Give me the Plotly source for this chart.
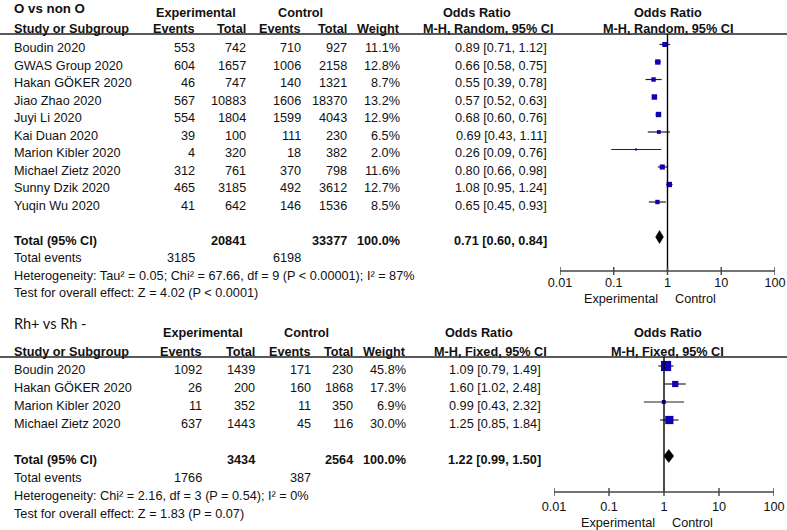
import math
import plotly.graph_objects as go

# ---------------- data ----------------
top_title = "O vs non O"
top_studies = ["Boudin 2020", "GWAS Group 2020", "Hakan GÖKER 2020", "Jiao Zhao 2020", "Juyi Li 2020",
               "Kai Duan 2020", "Marion Kibler 2020", "Michael Zietz 2020", "Sunny Dzik 2020", "Yuqin Wu 2020"]
top_exp_events = [553, 604, 46, 567, 554, 39, 4, 312, 465, 41]
top_exp_total = [742, 1657, 747, 10883, 1804, 100, 320, 761, 3185, 642]
top_ctl_events = [710, 1006, 140, 1606, 1599, 111, 18, 370, 492, 146]
top_ctl_total = [927, 2158, 1321, 18370, 4043, 230, 382, 798, 3612, 1536]
top_weight = [11.1, 12.8, 8.7, 13.2, 12.9, 6.5, 2.0, 11.6, 12.7, 8.5]
top_or = [0.89, 0.66, 0.55, 0.57, 0.68, 0.69, 0.26, 0.80, 1.08, 0.65]
top_lo = [0.71, 0.58, 0.39, 0.52, 0.60, 0.43, 0.09, 0.66, 0.95, 0.45]
top_hi = [1.12, 0.75, 0.78, 0.63, 0.76, 1.11, 0.76, 0.98, 1.24, 0.93]
top_total = {"exp_total": 20841, "ctl_total": 33377, "weight": 100.0, "or": 0.71, "lo": 0.60, "hi": 0.84,
             "exp_events": 3185, "ctl_events": 6198}
top_method = "M-H, Random, 95% CI"
top_het = "Heterogeneity: Tau² = 0.05; Chi² = 67.66, df = 9 (P < 0.00001); I² = 87%"
top_test = "Test for overall effect: Z = 4.02 (P < 0.0001)"

bot_title = "Rh+ vs Rh -"
bot_studies = ["Boudin 2020", "Hakan GÖKER 2020", "Marion Kibler 2020", "Michael Zietz 2020"]
bot_exp_events = [1092, 26, 11, 637]
bot_exp_total = [1439, 200, 352, 1443]
bot_ctl_events = [171, 160, 11, 45]
bot_ctl_total = [230, 1868, 350, 116]
bot_weight = [45.8, 17.3, 6.9, 30.0]
bot_or = [1.09, 1.60, 0.99, 1.25]
bot_lo = [0.79, 1.02, 0.43, 0.85]
bot_hi = [1.49, 2.48, 2.32, 1.84]
bot_total = {"exp_total": 3434, "ctl_total": 2564, "weight": 100.0, "or": 1.22, "lo": 0.99, "hi": 1.50,
             "exp_events": 1766, "ctl_events": 387}
bot_method = "M-H, Fixed, 95% CI"
bot_het = "Heterogeneity: Chi² = 2.16, df = 3 (P = 0.54); I² = 0%"
bot_test = "Test for overall effect: Z = 1.83 (P = 0.07)"

tick_vals = [0.01, 0.1, 1, 10, 100]
tick_text = ["0.01", "0.1", "1", "10", "100"]

# ---------------- style / layout ----------------
W, H = 787, 530
FONT = "Liberation Sans, Arial, sans-serif"
FS = 12.7
TXT = "#111111"
BLUE = "#1000b4"
LINE = "#222222"

fig = go.Figure()
annotations = []


def txt(x, y, s, anchor="left", bold=False, size=FS, family=FONT):
    annotations.append(dict(x=x, y=y, xref="x", yref="y", text=("<b>%s</b>" % s) if bold else s,
                            showarrow=False, xanchor=anchor, yanchor="middle",
                            font=dict(family=family, size=size, color=TXT)))


def panel(p):
    xa = p["xaxis"]
    # title and headers
    txt(12, p["title_y"], p["title"], bold=p["title_bold"], size=p["title_size"], family=p["title_font"])
    txt(p["exp_c"], p["h1"], "Experimental", anchor="center", bold=True)
    txt(p["ctl_c"], p["h1"], "Control", anchor="center", bold=True)
    txt(p["or1_c"], p["h1"], "Odds Ratio", anchor="center", bold=True)
    txt(p["or2_c"], p["h1"], "Odds Ratio", anchor="center", bold=True)
    txt(12, p["h2"], "Study or Subgroup", bold=True)
    txt(p["c_ee"], p["h2"], "Events", anchor="right", bold=True)
    txt(p["c_et"], p["h2"], "Total", anchor="right", bold=True)
    txt(p["c_ce"], p["h2"], "Events", anchor="right", bold=True)
    txt(p["c_ct"], p["h2"], "Total", anchor="right", bold=True)
    txt(p["c_w"], p["h2"], "Weight", anchor="right", bold=True)
    txt(p["c_or"] + 6, p["h2"], p["method"], anchor="right", bold=True)
    txt(p["or2_c"], p["h2"], p["method"], anchor="center", bold=True)

    # separator line across the width
    fig.add_trace(go.Scatter(x=[0, W], y=[p["sep"], p["sep"]], xaxis="x", yaxis="y", mode="lines",
                             line=dict(color=LINE, width=1.3), hoverinfo="skip", showlegend=False))

    n = len(p["studies"])
    ys = [p["row0"] + p["dy"] * i for i in range(n)]
    for i in range(n):
        y = ys[i]
        txt(12, y, p["studies"][i])
        txt(p["c_ee"], y, str(p["ee"][i]), anchor="right")
        txt(p["c_et"], y, str(p["et"][i]), anchor="right")
        txt(p["c_ce"], y, str(p["ce"][i]), anchor="right")
        txt(p["c_ct"], y, str(p["ct"][i]), anchor="right")
        txt(p["c_w"], y, "%.1f%%" % p["w"][i], anchor="right")
        txt(p["c_or"], y, "%.2f [%.2f, %.2f]" % (p["or"][i], p["lo"][i], p["hi"][i]), anchor="right")

    t = p["total"]
    y_tot = p["row0"] + p["dy"] * (n + 1)
    txt(12, y_tot, "Total (95% CI)", bold=True)
    txt(p["c_et"], y_tot, str(t["exp_total"]), anchor="right", bold=True)
    txt(p["c_ct"], y_tot, str(t["ctl_total"]), anchor="right", bold=True)
    txt(p["c_w"], y_tot, "%.1f%%" % t["weight"], anchor="right", bold=True)
    txt(p["c_or"], y_tot, "%.2f [%.2f, %.2f]" % (t["or"], t["lo"], t["hi"]), anchor="right", bold=True)
    y_ev = y_tot + p["dy"]
    txt(12, y_ev, "Total events")
    txt(p["c_ee"], y_ev, str(t["exp_events"]), anchor="right")
    txt(p["c_ce"], y_ev, str(t["ctl_events"]), anchor="right")
    txt(12, y_ev + p["dy"], p["het"])
    txt(12, y_ev + 2 * p["dy"], p["test"])

    # forest marks
    off = p["mark_off"]
    lx, ly = [], []
    for i in range(n):
        lx += [p["lo"][i], p["hi"][i], None]
        ly += [ys[i] - off, ys[i] - off, None]
    fig.add_trace(go.Scatter(x=lx, y=ly, xaxis=xa, yaxis="y", mode="lines",
                             line=dict(color=LINE, width=1.2), hoverinfo="skip", showlegend=False,
                             cliponaxis=False))
    fig.add_trace(go.Scatter(x=p["or"], y=[v - off for v in ys], xaxis=xa, yaxis="y", mode="markers",
                             marker=dict(symbol="square", color=BLUE, opacity=1,
                                         size=[1.5 * math.sqrt(w) for w in p["w"]], line=dict(width=0)),
                             hoverinfo="skip", showlegend=False, cliponaxis=False))
    yd = y_tot - off
    hh = 6.5
    fig.add_trace(go.Scatter(x=[t["lo"], t["or"], t["hi"], t["or"], t["lo"]],
                             y=[yd, yd - hh, yd, yd + hh, yd], xaxis=xa, yaxis="y", mode="lines",
                             fill="toself", fillcolor="black", line=dict(color="black", width=0.5),
                             hoverinfo="skip", showlegend=False))
    # null line
    fig.add_trace(go.Scatter(x=[1, 1], y=[p["sep"], p["axis_y"]], xaxis=xa, yaxis="y", mode="lines",
                             line=dict(color="black", width=1.4), hoverinfo="skip", showlegend=False))
    # axis line + ticks
    ay = p["axis_y"]
    fig.add_trace(go.Scatter(x=[tick_vals[0], tick_vals[-1]], y=[ay, ay], xaxis=xa, yaxis="y", mode="lines",
                             line=dict(color="#444444", width=1.4), hoverinfo="skip", showlegend=False,
                             cliponaxis=False))
    tx, ty = [], []
    for v in tick_vals:
        tx += [v, v, None]
        ty += [ay - 4, ay + 4, None]
    fig.add_trace(go.Scatter(x=tx, y=ty, xaxis=xa, yaxis="y", mode="lines",
                             line=dict(color="#444444", width=1.4), hoverinfo="skip", showlegend=False,
                             cliponaxis=False))
    fig.add_trace(go.Scatter(x=tick_vals, y=[ay + p["tl_off"]] * len(tick_vals), xaxis=xa, yaxis="y",
                             mode="text", text=tick_text, textposition="middle center", cliponaxis=False,
                             textfont=dict(family=FONT, size=FS, color=TXT), hoverinfo="skip", showlegend=False))
    txt(p["null_px"] - 7, ay + p["lab_off"], "Experimental", anchor="right")
    txt(p["null_px"] + 6, ay + p["lab_off"], "Control", anchor="left")


top = dict(xaxis="x2", title=top_title, title_y=8, title_bold=True, title_size=13.3, title_font=FONT,
           h1=12.5, h2=29, sep=34, row0=48, dy=17.5,
           exp_c=196, ctl_c=300, or1_c=477, or2_c=668,
           c_ee=197, c_et=248, c_ce=303, c_ct=349, c_w=402, c_or=549,
           method=top_method, studies=top_studies, ee=top_exp_events, et=top_exp_total,
           ce=top_ctl_events, ct=top_ctl_total, w=top_weight, **{"or": top_or}, lo=top_lo, hi=top_hi,
           total=top_total, het=top_het, test=top_test, mark_off=3.5, axis_y=271, null_px=667,
           tl_off=13, lab_off=28)
bot = dict(xaxis="x3", title=bot_title, title_y=323, title_bold=False, title_size=14.5,
           title_font="Lato, Open Sans, sans-serif",
           h1=333, h2=351.5, sep=357, row0=370, dy=18,
           exp_c=203, ctl_c=306, or1_c=479, or2_c=667.5,
           c_ee=204, c_et=257, c_ce=313, c_ct=355, c_w=408, c_or=543,
           method=bot_method, studies=bot_studies, ee=bot_exp_events, et=bot_exp_total,
           ce=bot_ctl_events, ct=bot_ctl_total, w=bot_weight, **{"or": bot_or}, lo=bot_lo, hi=bot_hi,
           total=bot_total, het=bot_het, test=bot_test, mark_off=4, axis_y=492, null_px=664,
           tl_off=15.5, lab_off=31)

panel(top)
panel(bot)

fig.update_layout(
    width=W, height=H, margin=dict(l=0, r=0, t=0, b=0),
    paper_bgcolor="white", plot_bgcolor="rgba(0,0,0,0)",
    xaxis=dict(range=[0, W], domain=[0, 1], visible=False, fixedrange=True),
    yaxis=dict(range=[H, 0], domain=[0, 1], visible=False, fixedrange=True),
    xaxis2=dict(type="log", range=[-2, 2], domain=[560 / W, 775 / W], anchor="y", visible=False,
                fixedrange=True),
    xaxis3=dict(type="log", range=[-2, 2], domain=[554 / W, 774 / W], anchor="y", visible=False,
                fixedrange=True),
    annotations=annotations,
    showlegend=False,
    hovermode=False,
)

fig.write_html("out.html", config={"displayModeBar": False, "staticPlot": True},
               post_script="document.body.style.margin='0';document.body.style.padding='0';")
